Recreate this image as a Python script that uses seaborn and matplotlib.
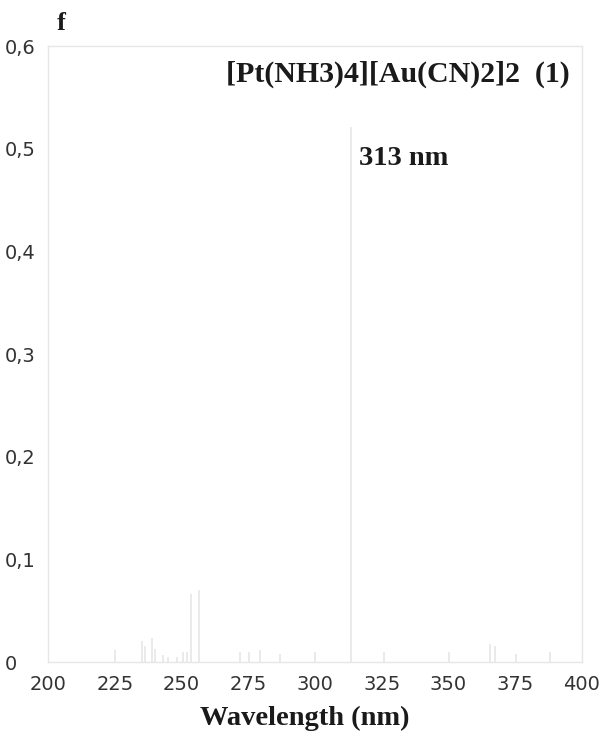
import numpy as np
import pandas as pd
import seaborn as sns
import matplotlib.pyplot as plt

# calculated transitions: wavelength (nm) and oscillator strength f
wavelength = [225.1, 235.1, 236.4, 238.9, 240.1, 243.2, 245.1, 248.3, 250.7, 252.0,
              253.5, 256.4, 272.0, 275.1, 279.5, 287.0, 300.1, 313.5, 325.7, 350.1,
              365.7, 367.6, 375.1, 388.2]
osc_f = [0.012, 0.020, 0.016, 0.023, 0.013, 0.007, 0.005, 0.005, 0.010, 0.010,
         0.066, 0.070, 0.010, 0.010, 0.012, 0.008, 0.010, 0.521, 0.010, 0.010,
         0.018, 0.016, 0.008, 0.010]

xticks = [200, 225, 250, 275, 300, 325, 350, 375, 400]
yticks = [0, 0.1, 0.2, 0.3, 0.4, 0.5, 0.6]
yticklabels = ['0', '0,1', '0,2', '0,3', '0,4', '0,5', '0,6']

title = '[Pt(NH3)4][Au(CN)2]2  (1)'
peak_label = '313 nm'

df = pd.DataFrame({'wl': wavelength, 'f': osc_f})

sns.set_style('white')
plt.rcParams['font.family'] = ['DejaVu Sans']

W, H = 607, 734
fig = plt.figure(figsize=(W / 100, H / 100), dpi=100)
ax = fig.add_axes([48 / W, 1 - 662 / H, (582 - 48) / W, (662 - 46) / H])

ax.vlines(df.wl, 0, df.f, color='#e6e6e6', lw=1.2)

ax.set_xlim(200, 400)
ax.set_ylim(0, 0.6)
ax.set_xticks(xticks)
ax.set_xticklabels([str(t) for t in xticks])
ax.set_yticks(yticks)
ax.set_yticklabels(yticklabels, ha='left')
ax.tick_params(axis='x', length=0, pad=9, labelsize=14, labelcolor='#333333')
ax.tick_params(axis='y', length=3, width=0.6, color='#eaeaea', direction='in',
               pad=31, labelsize=14, labelcolor='#333333')

for sp in ax.spines.values():
    sp.set_color('#e6e6e6')
    sp.set_linewidth(1.0)

serif = dict(family=['Liberation Serif', 'DejaVu Serif'], fontweight='bold', color='#1a1a1a')
fig.text(305 / W, 1 - 718 / H, 'Wavelength (nm)', ha='center', va='center',
         fontsize=20.5, **serif)
fig.text(57 / W, 1 - 23 / H, 'f', ha='left', va='center', fontsize=19, **serif)
fig.text(570 / W, 1 - 74 / H, title, ha='right', va='center', fontsize=21.5, **serif)
ax.text(316.5, 0.49, peak_label, ha='left', va='center', fontsize=20.5, **serif)

fig.savefig('out.png', dpi=100)
